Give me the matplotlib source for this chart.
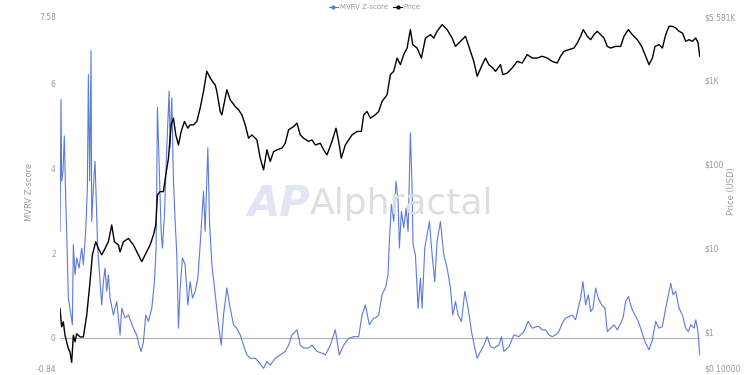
import numpy as np
import matplotlib
matplotlib.use('Agg')
import matplotlib.pyplot as plt
from matplotlib.lines import Line2D

# ---- data (x = days since first sample) ----
mvrv_day = [0, 6, 10, 18, 26, 34, 40, 50, 66, 74, 80, 90, 100, 114, 130, 140, 154, 164,
            170, 178, 186, 190, 200, 210, 220, 226, 240, 250, 260, 270, 280, 290, 300,
            320, 340, 360, 370, 390, 410, 440, 460, 474, 486, 500, 514, 530, 550, 566,
            576, 584, 594, 606, 614, 626, 640, 654, 660, 670, 680, 690, 700, 710, 720,
            734, 750, 766, 780, 794, 810, 826, 840, 860, 870, 886, 896, 910, 926,
            950, 966, 980, 1000, 1020, 1040, 1060, 1080, 1100, 1120, 1140, 1170, 1190,
            1220, 1240, 1260, 1290, 1320, 1350, 1370, 1390, 1420, 1440, 1460, 1490,
            1510, 1540, 1570, 1590, 1620, 1650, 1674, 1700, 1730, 1760, 1790, 1810,
            1830, 1854, 1880, 1890, 1910, 1930, 1950, 1966, 1974, 1986, 2000, 2014,
            2026, 2034, 2046, 2060, 2074, 2086, 2100, 2110, 2116, 2130, 2146, 2160,
            2170, 2186, 2200, 2214, 2230, 2246, 2260, 2280, 2300, 2320, 2340, 2354,
            2370, 2386, 2406, 2426, 2446, 2466, 2480, 2500, 2520, 2540, 2560, 2580,
            2600, 2630, 2646, 2660, 2690, 2720, 2750, 2780, 2806, 2830, 2860, 2870,
            2890, 2910, 2930, 2950, 2970, 2990, 3010, 3030, 3050, 3070, 3090, 3106,
            3120, 3134, 3150, 3166, 3180, 3194, 3210, 3226, 3246, 3266, 3280, 3300,
            3320, 3340, 3360, 3374, 3390, 3406, 3426, 3446, 3466, 3486, 3506, 3530,
            3550, 3570, 3590, 3610, 3630, 3646, 3660, 3674, 3690, 3710, 3730, 3750,
            3766, 3780, 3800, 3810, 3822, 3830, 3834]
mvrv_val = [2.52, 5.63, 3.70, 3.94, 4.77, 3.31, 2.52, 0.94, 0.54, 0.31, 2.20, 1.49, 1.89,
            1.65, 2.12, 1.73, 2.52, 3.54, 6.22, 3.70, 6.78, 2.75, 3.54, 4.17, 2.91, 2.12,
            1.33, 0.78, 1.33, 1.65, 1.10, 1.49, 0.94, 0.54, 0.86, 0.07, 0.70, 0.47, 0.54,
            0.23, 0.07, -0.17, -0.32, -0.09, 0.54, 0.39, 0.70, 1.33, 2.12, 5.44, 4.09,
            2.52, 2.12, 2.91, 4.49, 5.83, 4.49, 5.67, 3.70, 2.75, 1.96, 0.23, 1.18, 1.89,
            1.73, 0.78, 1.33, 0.94, 1.10, 1.41, 2.20, 3.46, 2.52, 4.49, 2.75, 1.73, 1.18,
            0.31, -0.17, 0.54, 1.18, 0.70, 0.31, 0.23, 0.07, -0.17, -0.40, -0.48, -0.48,
            -0.56, -0.72, -0.56, -0.64, -0.48, -0.40, -0.32, -0.17, 0.07, 0.19, -0.17,
            -0.24, -0.24, -0.17, -0.32, -0.36, -0.40, -0.17, 0.19, -0.40, -0.17, -0.01,
            0.03, 0.03, 0.54, 0.78, 0.31, 0.47, 0.47, 0.54, 1.02, 1.18, 1.49, 2.28, 3.15,
            2.75, 3.70, 3.23, 2.12, 2.99, 2.60, 3.07, 2.52, 4.84, 3.54, 2.20, 1.96, 0.70,
            1.41, 0.70, 2.12, 2.44, 2.75, 1.96, 1.33, 2.28, 2.75, 1.96, 1.65, 1.18, 0.54,
            0.86, 0.54, 0.39, 1.10, 0.70, 0.15, -0.13, -0.48, -0.32, -0.17, 0.03, -0.21,
            -0.24, -0.17, 0.03, -0.32, -0.21, 0.07, 0.03, 0.15, 0.39, 0.23, 0.27, 0.27,
            0.19, 0.19, 0.07, 0.03, 0.07, 0.15, 0.35, 0.47, 0.50, 0.54, 0.43, 0.70,
            0.94, 1.33, 0.78, 1.02, 0.62, 0.70, 1.18, 0.94, 0.78, 0.70, 0.15, 0.23,
            0.31, 0.19, 0.35, 0.47, 0.86, 0.98, 0.70, 0.54, 0.39, 0.15, -0.09, -0.28,
            -0.05, 0.39, 0.23, 0.27, 0.70, 1.02, 1.29, 1.02, 1.10, 0.70, 0.54, 0.23,
            0.15, 0.31, 0.23, 0.43, 0.19, -0.17, -0.40]

price_day = [0, 10, 20, 30, 50, 60, 70, 80, 90, 100, 120, 140, 160, 180, 194, 214, 230,
             250, 270, 290, 310, 326, 350, 360, 380, 410, 440, 470, 490, 510, 540, 560,
             574, 584, 600, 620, 634, 650, 666, 680, 694, 710, 726, 746, 766, 780, 800,
             820, 840, 860, 880, 900, 920, 930, 940, 960, 970, 1000, 1020, 1050, 1070,
             1090, 1110, 1130, 1150, 1180, 1200, 1220, 1240, 1260, 1280, 1300, 1330,
             1350, 1370, 1400, 1420, 1440, 1460, 1490, 1510, 1530, 1560, 1580, 1600,
             1630, 1654, 1670, 1686, 1710, 1730, 1750, 1780, 1806, 1820, 1840, 1860,
             1890, 1910, 1930, 1960, 1980, 2000, 2020, 2040, 2060, 2080, 2100, 2114,
             2140, 2166, 2190, 2220, 2240, 2260, 2290, 2320, 2350, 2370, 2400, 2430,
             2460, 2480, 2500, 2526, 2550, 2570, 2594, 2610, 2640, 2654, 2680, 2710,
             2740, 2770, 2800, 2830, 2860, 2890, 2920, 2950, 2980, 3000, 3020, 3050,
             3080, 3100, 3120, 3136, 3160, 3180, 3200, 3220, 3240, 3260, 3280, 3300,
             3330, 3360, 3380, 3406, 3430, 3460, 3486, 3510, 3530, 3550, 3566, 3590,
             3610, 3630, 3650, 3670, 3690, 3710, 3730, 3750, 3770, 3790, 3810, 3824,
             3834]
price_val = [1.91, 1.16, 1.33, 0.92, 0.64, 0.58, 0.44, 0.92, 0.77, 0.96, 0.88, 0.88,
             1.59, 3.97, 8.3, 11.9, 9.9, 8.3, 9.9, 11.9, 18.8, 11.9, 10.9, 9.0, 11.9,
             13.0, 10.9, 8.3, 6.9, 8.3, 10.9, 14.3, 18.8, 42.8, 46.9, 46.9, 74, 117, 291,
             350, 221, 168, 243, 319, 266, 291, 291, 319, 460, 726, 1260, 1050, 912, 871,
             726, 420, 383, 760, 578, 481, 440, 383, 291, 202, 221, 193, 117, 85, 147,
             107, 140, 147, 154, 176, 254, 278, 305, 221, 202, 185, 193, 168, 176, 147,
             128, 185, 266, 185, 117, 168, 193, 221, 243, 243, 383, 420, 350, 383, 420,
             552, 663, 1150, 1260, 1810, 1510, 1990, 2380, 3940, 2610, 2380, 1810, 3130,
             3430, 3130, 3760, 4520, 3940, 3130, 2490, 2860, 3280, 2170, 1650, 1100,
             1440, 1810, 1510, 1380, 1260, 1510, 1150, 1200, 1380, 1650, 1580, 1990,
             1810, 1810, 1900, 1810, 1650, 1580, 1900, 2170, 2280, 2380, 2730, 3280,
             3940, 3280, 2990, 3430, 3760, 3430, 3130, 2490, 2380, 2490, 2490, 3280,
             3940, 3430, 2990, 2490, 1900, 1510, 1810, 2490, 2610, 2380, 3430, 4310,
             4310, 4120, 3760, 3590, 2860, 2990, 2860, 3130, 2730, 1900]

z_ticks = [-0.84, 0, 2, 4, 6, 7.58]
z_labels = ['-0.84', '0', '2', '4', '6', '7.58']
price_ticks = [10 ** -0.49, 1, 10, 100, 1000, 5581]
price_labels = ['$0.10000', '$1', '$10', '$100', '$1K', '$5.581K']

blue = '#5b7bd6'
grey = '#9a9a9a'

fig = plt.figure(figsize=(7.5, 3.75), dpi=100)
ax = fig.add_axes([0.08, 0.004, 0.853, 0.951])
ax2 = ax.twinx()

# watermark
fig.text(0.372, 0.455, 'AP', fontsize=30, fontweight='bold', fontstyle='italic',
         color='#e2e5f5', ha='center', va='center', zorder=0)
fig.text(0.413, 0.455, 'Alphractal', fontsize=26, color='#dedede',
         ha='left', va='center', zorder=0)

ax.axhline(0, color='#b0b0b0', lw=0.8, zorder=1)
ax.plot(mvrv_day, mvrv_val, color=blue, lw=0.8, zorder=2)
ax2.plot(price_day, price_val, color='black', lw=1.0)

ax.set_xlim(0, 3834)
ax.set_ylim(-0.84, 7.58)
ax.set_yticks(z_ticks)
ax.set_yticklabels(z_labels)
ax2.set_yscale('log')
ax2.set_ylim(10 ** -0.49, 5581)
ax2.set_yticks(price_ticks)
ax2.set_yticklabels(price_labels)
ax2.minorticks_off()

for a in (ax, ax2):
    for s in a.spines.values():
        s.set_visible(False)
    a.tick_params(length=0, labelsize=5.5, labelcolor=grey, pad=3)
ax.set_xticks([])
# the lowest labels sit on the bottom edge, keep them inside the canvas
ax.get_yticklabels()[0].set_va('bottom')
ax2.get_yticklabels()[0].set_va('bottom')

ax.set_ylabel('MVRV Z-score', fontsize=6, color=grey)
ax2.set_ylabel('Price (USD)', fontsize=6, color=grey)
ax.yaxis.set_label_coords(-0.04, 0.51)
ax2.yaxis.set_label_coords(1.042, 0.51)

handles = [Line2D([], [], color=blue, marker='o', markersize=2, lw=0.8),
           Line2D([], [], color='black', marker='o', markersize=2, lw=0.8)]
leg = fig.legend(handles, ['MVRV Z-score', 'Price'], loc='upper center',
                 bbox_to_anchor=(0.5, 1.005), ncol=2, frameon=False, fontsize=5,
                 handlelength=1.2, handletextpad=0.3, columnspacing=0.8)
for t in leg.get_texts():
    t.set_color(grey)

fig.savefig('out.png', dpi=100)
